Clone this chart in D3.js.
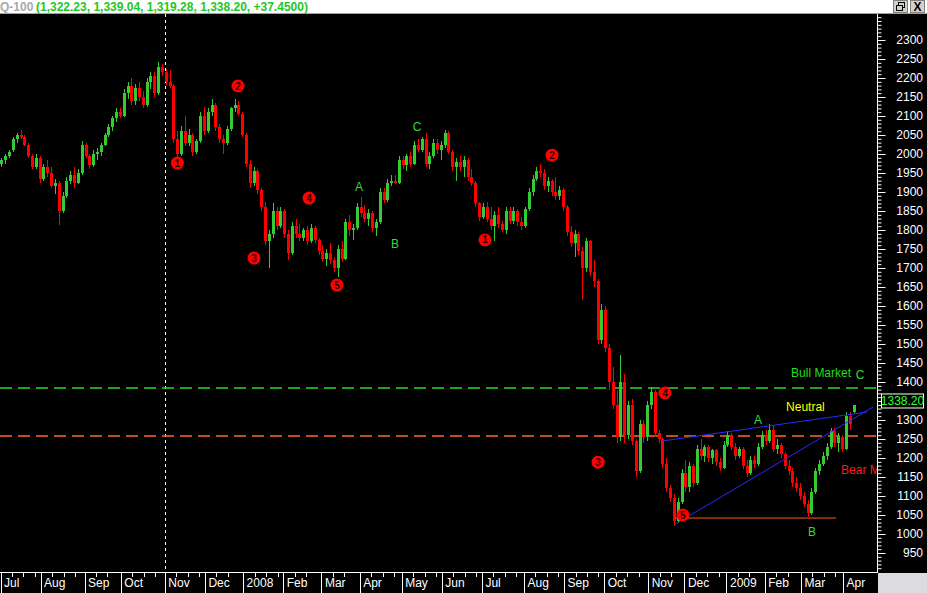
<!DOCTYPE html>
<html><head><meta charset="utf-8">
<script src="https://cdn.jsdelivr.net/npm/d3@7"></script>
<style>body{margin:0;background:#000;overflow:hidden}svg{display:block;font-family:Arial,"Liberation Sans",sans-serif}</style>
</head><body>
<svg id="c" width="927" height="593"></svg>
<script>
// ---- DATA (each bar = 2 trading days, starting 2 Jul 2007) ----
const opens=[1975,1985,1995,2010,2040,2050,2045,2025,1995,1965,
1990,1935,1965,1950,1915,1925,1850,1890,1930,1945,
1925,1950,2025,1995,1970,2000,2005,2025,2050,2070,
2095,2110,2100,2160,2180,2140,2175,2150,2130,2190,
2205,2160,2230,2215,2190,2180,2040,2000,2060,2030,
2050,2005,2035,2100,2060,2110,2130,2070,2040,2030,
2065,2120,2130,2105,2050,1975,1925,1955,1905,1860,
1770,1790,1850,1810,1850,1790,1740,1810,1790,1780,
1800,1770,1805,1775,1745,1725,1740,1720,1700,1750,
1725,1820,1800,1805,1860,1845,1830,1845,1805,1820,
1900,1880,1925,1930,1925,1985,1970,1995,1975,2025,
2010,2040,1975,1995,2030,2010,2025,2055,2005,1965,
1980,1965,1985,1940,1925,1870,1835,1860,1830,1810,
1840,1815,1800,1850,1825,1850,1820,1810,1855,1900,
1935,1955,1950,1915,1930,1900,1890,1905,1860,1795,
1765,1790,1745,1700,1770,1690,1665,1510,1590,1490,
1400,1340,1255,1400,1260,1340,1245,1165,1290,1255,
1340,1375,1265,1250,1185,1120,1095,1035,1085,1160,
1125,1180,1135,1225,1205,1230,1200,1220,1190,1175,
1235,1260,1230,1205,1225,1180,1160,1195,1185,1230,
1260,1245,1275,1225,1235,1210,1180,1165,1135,1120,
1100,1080,1055,1110,1165,1185,1205,1230,1270,1240,
1255,1225,1310,1322.23];
const highs=[1990,2000,2010,2045,2055,2063,2050,2030,2000,2000,
1995,1975,1985,1965,1935,1930,1900,1940,1955,1965,
1960,2035,2030,2000,2010,2015,2030,2055,2080,2100,
2120,2122,2170,2190,2200,2185,2190,2165,2200,2215,
2215,2242,2238,2225,2220,2185,2060,2075,2100,2065,
2055,2040,2110,2125,2120,2145,2135,2080,2050,2075,
2125,2145,2140,2110,2055,1985,1965,1960,1910,1875,
1800,1870,1860,1860,1855,1800,1820,1830,1815,1805,
1810,1815,1810,1780,1760,1750,1765,1730,1760,1770,
1830,1840,1815,1870,1888,1865,1855,1850,1830,1910,
1910,1935,1945,1945,1995,1995,2000,2005,2035,2040,
2045,2055,2005,2040,2040,2035,2062,2060,2010,1990,
1995,1995,1990,1960,1930,1875,1870,1875,1860,1850,
1860,1825,1860,1860,1860,1855,1835,1860,1910,1945,
1965,1975,1960,1940,1935,1940,1915,1910,1865,1810,
1800,1795,1755,1780,1775,1720,1670,1605,1600,1500,
1440,1380,1470,1420,1350,1355,1250,1300,1300,1350,
1388,1380,1275,1255,1200,1130,1105,1095,1170,1195,
1190,1185,1235,1250,1235,1235,1225,1225,1200,1245,
1272,1265,1240,1230,1230,1195,1205,1205,1240,1270,
1275,1290,1285,1250,1240,1215,1195,1175,1150,1135,
1110,1090,1120,1175,1195,1215,1240,1280,1280,1265,
1260,1320,1320,1339.04];
const lows=[1965,1975,1990,2005,2030,2040,2020,1990,1960,1960,
1925,1930,1940,1910,1895,1813,1845,1885,1920,1910,
1920,1945,1990,1960,1965,1985,1995,2020,2045,2060,
2085,2095,2098,2145,2130,2130,2140,2120,2125,2170,
2150,2155,2205,2180,2175,2030,1990,1995,2020,2020,
1995,2000,2030,2050,2055,2100,2060,2030,2000,2025,
2060,2110,2100,2045,1965,1910,1915,1895,1850,1760,
1700,1780,1800,1805,1780,1720,1735,1780,1770,1770,
1760,1765,1765,1735,1715,1705,1710,1690,1676,1715,
1720,1785,1775,1800,1835,1820,1810,1795,1785,1815,
1870,1875,1915,1920,1920,1960,1955,1965,1970,2005,
2005,1965,1960,1990,2000,1985,2015,2000,1955,1930,
1955,1940,1930,1915,1860,1825,1830,1820,1800,1770,
1805,1795,1790,1815,1815,1810,1800,1805,1850,1890,
1930,1940,1905,1900,1890,1880,1880,1850,1785,1755,
1730,1735,1616,1690,1680,1650,1500,1500,1480,1380,
1330,1240,1245,1240,1250,1235,1150,1160,1240,1245,
1330,1255,1240,1175,1110,1085,1020,1030,1080,1110,
1110,1125,1130,1195,1190,1190,1185,1180,1165,1170,
1230,1220,1195,1200,1170,1150,1155,1175,1180,1225,
1235,1240,1215,1210,1200,1170,1155,1125,1110,1090,
1070,1045,1050,1105,1155,1180,1195,1225,1230,1215,
1215,1220,1275,1319.28];
const closes=[1985,1995,2005,2040,2050,2045,2025,1995,1965,1990,
1935,1965,1950,1915,1925,1850,1890,1930,1945,1925,
1950,2025,1995,1970,2000,2005,2025,2050,2070,2095,
2110,2100,2160,2180,2140,2175,2150,2130,2190,2205,
2160,2230,2215,2190,2180,2040,2000,2060,2030,2050,
2005,2035,2100,2060,2110,2130,2070,2040,2030,2065,
2120,2130,2105,2050,1975,1925,1955,1905,1860,1770,
1790,1850,1810,1850,1790,1740,1810,1790,1780,1800,
1770,1805,1775,1745,1725,1740,1720,1700,1750,1725,
1820,1800,1805,1860,1845,1830,1845,1805,1820,1900,
1880,1925,1930,1925,1985,1970,1995,1975,2025,2010,
2040,1975,1995,2030,2010,2025,2055,2005,1965,1980,
1965,1985,1940,1925,1870,1835,1860,1830,1810,1840,
1815,1800,1850,1825,1850,1820,1810,1855,1900,1935,
1955,1950,1915,1930,1900,1890,1905,1860,1795,1765,
1790,1745,1700,1770,1690,1665,1510,1590,1490,1400,
1340,1255,1400,1260,1340,1245,1165,1290,1255,1340,
1375,1265,1250,1185,1120,1095,1035,1085,1160,1125,
1180,1135,1225,1205,1230,1200,1220,1190,1175,1235,
1260,1230,1205,1225,1180,1160,1195,1185,1230,1260,
1245,1275,1225,1235,1210,1180,1165,1135,1120,1100,
1080,1055,1110,1165,1185,1205,1230,1270,1240,1255,
1225,1310,1290,1338.20];
const DAYS_PER_BAR=2;

const monthLabels=["Jul","Aug","Sep","Oct","Nov","Dec","2008","Feb","Mar","Apr","May","Jun","Jul","Aug","Sep","Oct","Nov","Dec","2009","Feb","Mar","Apr"];
const monthStarts=[0,21,44,63,86,107,127,148,168,188,210,231,252,274,295,316,339,358,380,400,419,441];
const yMajorTicks=d3.range(950,2301,50);
const yMinorTicks=d3.range(910,2361,10);

const waveMarks=[{t:"1",d:92.6,v:1976},{t:"2",d:124.3,v:2179},{t:"3",d:132.7,v:1726},{t:"4",d:161.5,v:1884},{t:"5",d:176.1,v:1655},
 {t:"1",d:253.6,v:1774},{t:"2",d:288.7,v:1997},{t:"3",d:312.8,v:1189},{t:"4",d:347.8,v:1371},{t:"5",d:357.2,v:1050}];
const letterMarks=[{t:"A",d:187.7,v:1913},{t:"B",d:206.5,v:1763},{t:"C",d:218,v:2071},{t:"A",d:396.5,v:1300},{t:"B",d:424.8,v:1005},{t:"C",d:449.9,v:1418}];
const textMarks=[{t:"Bull Market",d:413.8,v:1425,c:"#22dd22"},{t:"Neutral",d:411.2,v:1334,c:"#ffff00"},{t:"Bear M",d:440,v:1170,c:"#ff1a1a"}];
const bullLevel=1384, bearLevel=1258;
const trendLines=[{d1:346.8,v1:1245,d2:453.6,v2:1321},{d1:353.1,v1:1026,d2:456.7,v2:1334}];
const supportLine={d1:353.1,d2:437.4,v:1042};
const markerDay=86;
const headerName="Q-100";
const headerVals="(1,322.23, 1,339.04, 1,319.28, 1,338.20, +37.4500)";
const lastPrice=1338.20;

// ---- DRAW ----
const W=927,H=593, PR=877, PT=14, PB=572;
const svg=d3.select("#c");
const x=d3.scaleLinear().domain([0,441]).range([0.5,843]);
const y=d3.scaleLinear().domain([950,2300]).range([553,40]);

svg.append("rect").attr("width",W).attr("height",H).attr("fill","#000");
// header
svg.append("rect").attr("x",0).attr("y",0).attr("width",W).attr("height",13).attr("fill","#ffffff");
svg.append("line").attr("x1",0).attr("x2",W).attr("y1",13.5).attr("y2",13.5).attr("stroke","#a0a0a0");
svg.append("text").attr("x",0).attr("y",10.5).attr("font-size",12).attr("font-weight","bold").attr("fill","#a8a8a8").text(headerName);
svg.append("text").attr("x",36).attr("y",10.5).attr("font-size",12).attr("font-weight","bold").attr("fill","#22c822").text(headerVals);
// window buttons
const btn=svg.append("g");
btn.append("rect").attr("x",893.5).attr("y",0.5).attr("width",14).attr("height",12).attr("fill","#d4d0c8").attr("stroke","#808080");
btn.append("rect").attr("x",898.5).attr("y",2.5).attr("width",6).attr("height",5).attr("fill","none").attr("stroke","#000");
btn.append("rect").attr("x",896.5).attr("y",5.5).attr("width",6).attr("height",5).attr("fill","#d4d0c8").attr("stroke","#000");
btn.append("rect").attr("x",910.5).attr("y",0.5).attr("width",14).attr("height",12).attr("fill","#d4d0c8").attr("stroke","#808080");
btn.append("text").attr("x",917.5).attr("y",11).attr("text-anchor","middle").attr("font-size",12).attr("font-weight","bold").attr("fill","#000").text("X");

// clip
svg.append("defs").append("clipPath").attr("id","pc").append("rect").attr("x",0).attr("y",PT).attr("width",PR).attr("height",PB-PT);
const g=svg.append("g").attr("clip-path","url(#pc)");

// dotted vertical
g.append("line").attr("x1",Math.round(x(markerDay))+0.5).attr("x2",Math.round(x(markerDay))+0.5).attr("y1",PT).attr("y2",PB)
 .attr("stroke","#ffffff").attr("stroke-dasharray","3,3");

// levels
g.append("line").attr("x1",0).attr("x2",PR).attr("y1",y(bullLevel)).attr("y2",y(bullLevel)).attr("stroke","#22dd22").attr("stroke-width",1.5).attr("stroke-dasharray","12,6");
g.append("line").attr("x1",0).attr("x2",PR).attr("y1",y(bearLevel)).attr("y2",y(bearLevel)).attr("stroke","#ff6a2a").attr("stroke-width",1.5).attr("stroke-dasharray","12,6");

// bars
const bars=opens.map((o,i)=>({o,h:highs[i],l:lows[i],c:closes[i],d:i*DAYS_PER_BAR+0.5}));
const bg=g.append("g").attr("shape-rendering","crispEdges");
bars.forEach(b=>{
  const col=b.c>=b.o?"#33cc33":"#ff0000";
  const cx=Math.round(x(b.d));
  bg.append("rect").attr("x",cx).attr("y",y(b.h)).attr("width",1).attr("height",Math.max(1,y(b.l)-y(b.h))).attr("fill",col);
  const top=Math.min(y(b.o),y(b.c)), hh=Math.max(1,Math.abs(y(b.o)-y(b.c)));
  bg.append("rect").attr("x",cx-1).attr("y",top).attr("width",3).attr("height",hh).attr("fill",col);
});

// trend lines
trendLines.forEach(t=>g.append("line").attr("x1",x(t.d1)).attr("y1",y(t.v1)).attr("x2",x(t.d2)).attr("y2",y(t.v2)).attr("stroke","#2a2aff").attr("stroke-width",1));
g.append("line").attr("x1",x(supportLine.d1)).attr("x2",x(supportLine.d2)).attr("y1",y(supportLine.v)).attr("y2",y(supportLine.v)).attr("stroke","#ff5a1a").attr("stroke-width",1);

// wave marks
waveMarks.forEach(m=>{
  const gg=g.append("g").attr("transform",`translate(${x(m.d)},${y(m.v)})`);
  gg.append("circle").attr("r",6.5).attr("fill","#ff0000");
  gg.append("text").attr("text-anchor","middle").attr("dy","0.36em").attr("font-size",10).attr("font-weight","bold").attr("fill","#300000").text(m.t);
});
letterMarks.forEach(m=>g.append("text").attr("x",x(m.d)).attr("y",y(m.v)).attr("dy","0.36em").attr("text-anchor","middle").attr("font-size",12).attr("fill","#33dd33").text(m.t));
textMarks.forEach(m=>g.append("text").attr("x",x(m.d)).attr("y",y(m.v)).attr("dy","0.36em").attr("font-size",12).attr("fill",m.c).text(m.t));

// y axis
const py=y(lastPrice)-4.5;
const ya=svg.append("g").attr("transform",`translate(${PR+0.5},0)`);
ya.append("g").call(d3.axisRight(y).tickValues(yMinorTicks.filter(v=>y(v)>PT+3&&y(v)<PB-2)).tickSize(4).tickFormat(""))
  .call(s=>{s.select(".domain").remove();s.selectAll("line").attr("stroke","#fff");});
ya.append("g").call(d3.axisRight(y).tickValues(yMajorTicks).tickSize(8).tickFormat(d=>Math.abs(y(d)-py)<10?"":d3.format("d")(d)))
  .call(s=>{s.select(".domain").remove();s.selectAll("line").attr("stroke","#fff");
    s.selectAll("text").attr("x",45.5).attr("text-anchor","end").attr("fill","#fff").attr("font-size",12).attr("font-family","Arial, Liberation Sans, sans-serif");});
ya.append("line").attr("y1",PT).attr("y2",PB).attr("stroke","#fff");

// price box
svg.append("rect").attr("x",881.5).attr("y",py-7).attr("width",42).attr("height",14).attr("fill","#000").attr("stroke","#fff");
svg.append("text").attr("x",902.5).attr("y",py).attr("dy","0.36em").attr("text-anchor","middle").attr("font-size",12).attr("fill","#33ff33").text(lastPrice.toFixed(2));

// x axis
svg.append("rect").attr("x",PR+1).attr("y",PB+1).attr("width",W-PR-1).attr("height",H-PB-1).attr("fill","#dcdce0");
const xa=svg.append("g").attr("transform",`translate(0,${PB+0.5})`);
const weekTicks=[];
monthStarts.forEach((m,i)=>{const nxt=i<monthStarts.length-1?monthStarts[i+1]:448;for(let d=m+6;d<nxt-2;d+=6)weekTicks.push(d);});
xa.append("g").call(d3.axisBottom(x).tickValues(weekTicks).tickSize(4).tickFormat(""))
  .call(s=>{s.select(".domain").remove();s.selectAll("line").attr("stroke","#fff").attr("shape-rendering","crispEdges");});
xa.append("g").call(d3.axisBottom(x).tickValues(monthStarts).tickSize(21).tickFormat((d,i)=>monthLabels[i]))
  .call(s=>{s.select(".domain").remove();s.selectAll("line").attr("stroke","#fff").attr("shape-rendering","crispEdges");
    s.selectAll("text").attr("x",3).attr("y",6).attr("dy","0.71em").attr("text-anchor","start").attr("fill","#fff").attr("font-size",12).attr("font-family","Arial, Liberation Sans, sans-serif");});
xa.append("line").attr("x1",0).attr("x2",PR+1).attr("stroke","#fff");
</script>
</body></html>
